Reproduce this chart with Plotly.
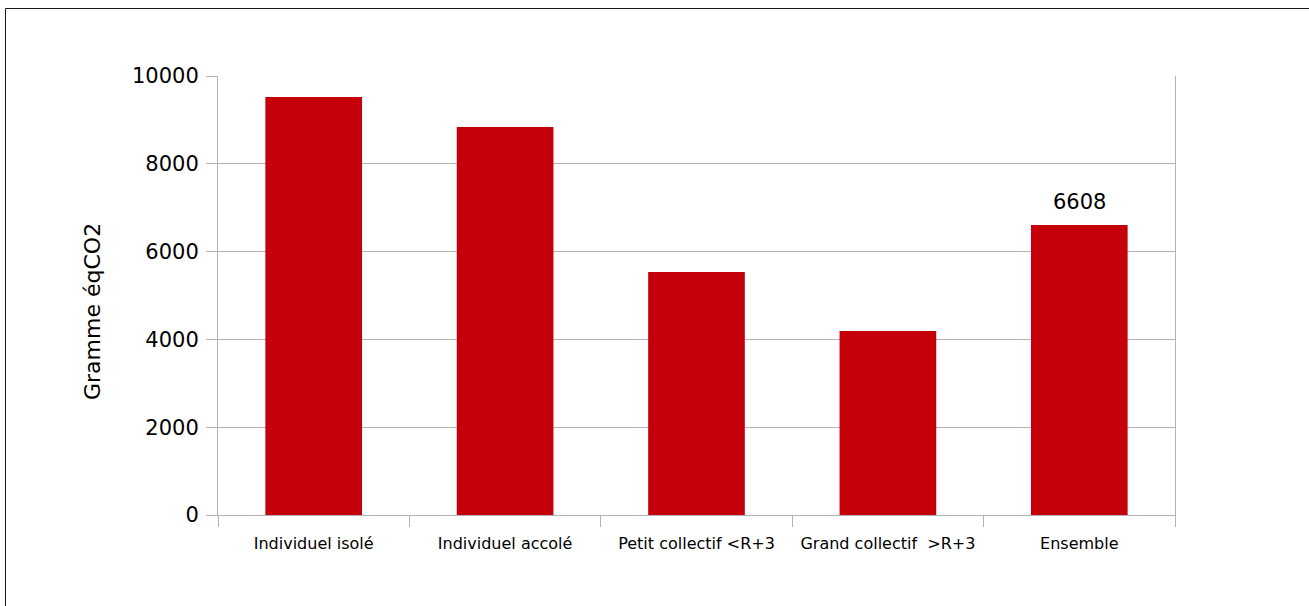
import plotly.graph_objects as go

categories = ["Individuel isolé", "Individuel accolé", "Petit collectif <R+3",
              "Grand collectif  >R+3", "Ensemble"]
values = [9520, 8840, 5535, 4190, 6608]
labelled = {"Ensemble": "6608"}
y_ticks = [0, 2000, 4000, 6000, 8000, 10000]

W, H = 1309, 606
L, R, T, B = 218, 134, 76, 91
pw, ph = W - L - R, H - T - B


def px_x(p):
    return (p - L) / pw


def px_y(p):
    return (H - B - p) / ph


fig = go.Figure(go.Bar(
    x=categories, y=values,
    marker=dict(color="#c5000b", line=dict(width=0)),
))

fig.update_layout(
    width=W, height=H,
    margin=dict(l=L, r=R, t=T, b=B),
    paper_bgcolor="white", plot_bgcolor="white",
    bargap=0.495, showlegend=False,
    font=dict(family="DejaVu Sans", color="#000000"),
)

fig.update_xaxes(
    showline=True, linecolor="#b3b3b3", linewidth=1,
    ticks="outside", tickson="boundaries", ticklen=11, tickcolor="#b3b3b3",
    tickfont=dict(size=16), ticklabelstandoff=14, showgrid=False,
)
fig.update_yaxes(
    range=[0, 10000], tickvals=y_ticks, ticktext=[str(v) for v in y_ticks],
    showline=True, linecolor="#b3b3b3", linewidth=1, mirror=True,
    ticks="outside", ticklen=11, tickcolor="#b3b3b3", ticklabelstandoff=3,
    gridcolor="#b3b3b3", gridwidth=1, zeroline=False,
    tickfont=dict(size=21),
)

# value label above the overall bar
for cat, val in zip(categories, values):
    if cat in labelled:
        fig.add_annotation(x=cat, y=val, text=labelled[cat], showarrow=False,
                           yanchor="bottom", yshift=9,
                           font=dict(size=21, color="#000000"))

# y axis title
fig.add_annotation(xref="paper", yref="paper", x=px_x(92), y=px_y(312),
                   text="Gramme éqCO2", textangle=-90, showarrow=False,
                   xanchor="center", yanchor="middle",
                   font=dict(size=22, color="#000000"))

# outer frame (left and top edges visible, others run off the page)
fig.add_shape(type="rect", xref="paper", yref="paper",
              x0=px_x(5.5), x1=px_x(W + 20), y0=px_y(8.5), y1=px_y(H + 20),
              line=dict(color="#1a1a1a", width=1), fillcolor="rgba(0,0,0,0)",
              layer="above")

fig.write_html("out.html")
